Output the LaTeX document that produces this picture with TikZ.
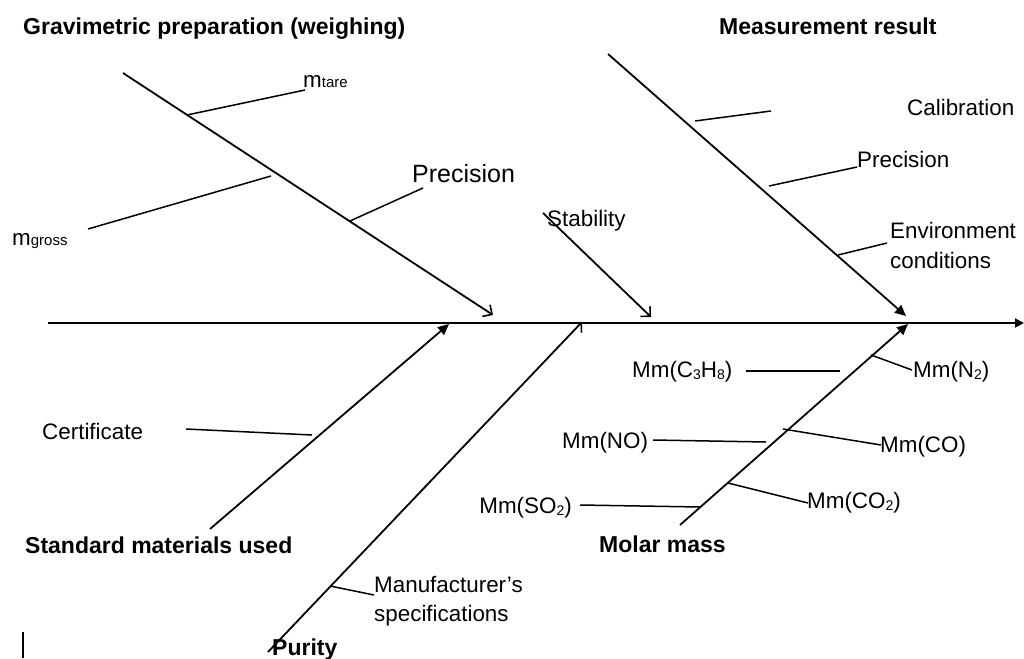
\documentclass[tikz,border=0pt]{standalone}
\usepackage{fontspec}
\setmainfont{Liberation Sans}
\usetikzlibrary{arrows.meta}
\newcommand{\lsub}[1]{{\fontsize{14}{14}\selectfont\raisebox{-2pt}{#1}}}
\newcommand{\msub}[1]{{\fontsize{15}{15}\selectfont #1}}
\begin{document}
\begin{tikzpicture}[x=1pt,y=-1pt,
  bone/.style={line width=1.8pt},
  twig/.style={line width=1.5pt},
  lbl/.style={anchor=base west,inner sep=0pt,font=\fontsize{22.4}{26}\selectfont},
  big/.style={anchor=base west,inner sep=0pt,font=\fontsize{25}{29}\selectfont},
  ttl/.style={anchor=base west,inner sep=0pt,font=\fontsize{23}{27}\selectfont\bfseries},
  openarr/.style={-{Straight Barb[length=7pt,width=14pt,line width=1.6pt]}},
  fillarr/.style={-{Triangle[length=11pt,width=10pt]}}]
\useasboundingbox (0,0) rectangle (1024,658);

% spine
\coordinate (spL) at (48,323);
\coordinate (spR) at (1024,323);
\draw[bone,-{Triangle[length=9pt,width=9pt]}] (spL) -- (spR);

% titles
\node[ttl] (tGrav) at (23,35) {Gravimetric preparation (weighing)};
\node[ttl] (tMeas) at (719,35) {Measurement result};
\node[ttl] (tStd) at (25,553) {Standard materials used};
\node[ttl] (tMol) at (599,552) {Molar mass};
\node[ttl] (tPur) at (272,655) {Purity};

% upper-left bone (weighing)
\coordinate (g1) at (123,73);
\coordinate (g2) at (493,315);
\draw[bone,openarr] (g1) -- (g2);
\coordinate (gt1) at (187,115); \coordinate (gt2) at (305,90);
\draw[twig] (gt1) -- (gt2);
\node[lbl] (mtare) at (303,88) {m\msub{tare}};
\coordinate (gg1) at (88,229); \coordinate (gg2) at (271,176);
\draw[twig] (gg1) -- (gg2);
\node[lbl] (mgross) at (12,245) {m\msub{gross}};
\coordinate (gp1) at (350,221); \coordinate (gp2) at (423,188);
\draw[twig] (gp1) -- (gp2);
\node[big] (prec1) at (412,182) {Precision};

% upper-right bone (measurement)
\coordinate (m1) at (608,54);
\coordinate (m2) at (906,316);
\draw[bone,fillarr] (m1) -- (m2);
\coordinate (mc1) at (695,121); \coordinate (mc2) at (771,111);
\draw[twig] (mc1) -- (mc2);
\node[lbl] (calib) at (907,115) {Calibration};
\coordinate (mp1) at (769,186); \coordinate (mp2) at (857,167);
\draw[twig] (mp1) -- (mp2);
\node[lbl] (prec2) at (857,167) {Precision};
\coordinate (me1) at (838,255); \coordinate (me2) at (887,243);
\draw[twig] (me1) -- (me2);
\node[lbl] (env1) at (890,238) {Environment};
\node[lbl] (env2) at (890,268) {conditions};

% stability
\coordinate (s1) at (543,213);
\coordinate (s2) at (651,317);
\node[lbl] (stab) at (547,226) {Stability};
\draw[bone,openarr] (s1) -- (s2);

% standard materials bone
\coordinate (sm1) at (210,529);
\coordinate (sm2) at (449,324);
\draw[bone,fillarr] (sm1) -- (sm2);
\coordinate (c1) at (186,429); \coordinate (c2) at (312,435);
\draw[twig] (c1) -- (c2);
\node[lbl] (cert) at (42,439) {Certificate};

% purity bone
\coordinate (p1) at (268,652);
\coordinate (p2) at (582,322);
\draw[bone,openarr] (p1) -- (p2);
\coordinate (pm1) at (330,586); \coordinate (pm2) at (374,595);
\draw[twig] (pm1) -- (pm2);
\node[lbl] (manu1) at (374,592) {Manufacturer’s};
\node[lbl] (manu2) at (374,621) {specifications};

% molar mass bone
\coordinate (mm1) at (680,525);
\coordinate (mm2) at (908,324);
\draw[bone,fillarr] (mm1) -- (mm2);
\node[lbl] (c3h8) at (632,377) {Mm(C\lsub{3}H\lsub{8})};
\coordinate (mc3a) at (746,371); \coordinate (mc3b) at (840,371);
\draw[twig] (mc3a) -- (mc3b);
\coordinate (mn1) at (871,355); \coordinate (mn2) at (912,370);
\draw[twig] (mn1) -- (mn2);
\node[lbl] (n2) at (913,377) {Mm(N\lsub{2})};
\node[lbl] (no) at (562,448) {Mm(NO)};
\coordinate (mo1) at (653,440); \coordinate (mo2) at (766,442);
\draw[twig] (mo1) -- (mo2);
\coordinate (mco1) at (783,429); \coordinate (mco2) at (881,445);
\draw[twig] (mco1) -- (mco2);
\node[lbl] (co) at (880,452) {Mm(CO)};
\node[lbl,anchor=base east] (so2) at (572,513) {Mm(SO\lsub{2})};
\coordinate (ms1) at (580,505); \coordinate (ms2) at (700,507);
\draw[twig] (ms1) -- (ms2);
\coordinate (mcd1) at (728,483); \coordinate (mcd2) at (808,503);
\draw[twig] (mcd1) -- (mcd2);
\node[lbl] (co2) at (807,508) {Mm(CO\lsub{2})};

% stray bar
\coordinate (bar1) at (23,632); \coordinate (bar2) at (23,658);
\draw[line width=1.5pt] (bar1) -- (bar2);
\end{tikzpicture}
\end{document}
